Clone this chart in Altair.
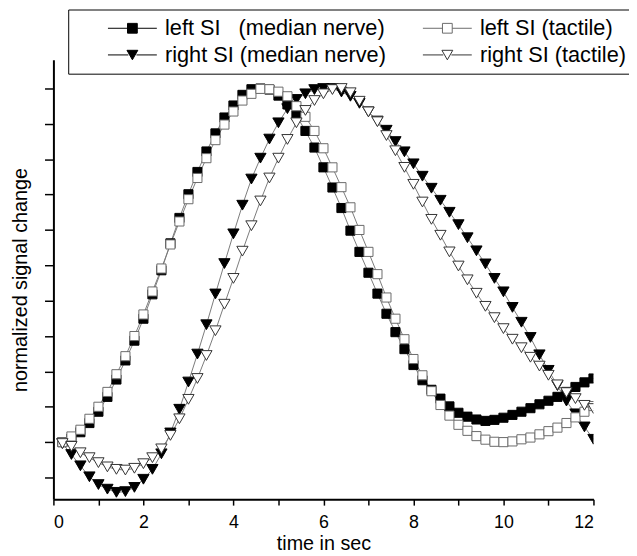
import altair as alt
import pandas as pd

# sample times (s)
time_s = [0.2, 0.4, 0.6, 0.8, 1.0, 1.2, 1.4, 1.6, 1.8, 2.0,
          2.2, 2.4, 2.6, 2.8, 3.0, 3.2, 3.4, 3.6, 3.8, 4.0,
          4.2, 4.4, 4.6, 4.8, 5.0, 5.2, 5.4, 5.6, 5.8, 6.0,
          6.2, 6.4, 6.6, 6.8, 7.0, 7.2, 7.4, 7.6, 7.8, 8.0,
          8.2, 8.4, 8.6, 8.8, 9.0, 9.2, 9.4, 9.6, 9.8, 10.0,
          10.2, 10.4, 10.6, 10.8, 11.0, 11.2, 11.4, 11.6, 11.8, 12.0]

left_median = [1.00, 1.10, 1.28, 1.54, 1.86, 2.28, 2.77, 3.31, 3.87, 4.49,
               5.18, 5.86, 6.62, 7.34, 8.01, 8.64, 9.22, 9.73, 10.18, 10.52,
               10.82, 10.98, 11.00, 10.97, 10.80, 10.55, 10.24, 9.80, 9.33, 8.77,
               8.20, 7.62, 6.98, 6.38, 5.79, 5.20, 4.63, 4.11, 3.63, 3.18,
               2.75, 2.48, 2.23, 2.01, 1.83, 1.72, 1.64, 1.60, 1.63, 1.69,
               1.77, 1.86, 1.96, 2.07, 2.17, 2.28, 2.42, 2.56, 2.69, 2.80]

left_tactile = [1.00, 1.16, 1.35, 1.66, 2.00, 2.42, 2.92, 3.43, 4.00, 4.61,
                5.26, 5.91, 6.59, 7.24, 7.87, 8.47, 9.03, 9.54, 9.98, 10.35,
                10.66, 10.85, 10.99, 10.98, 10.91, 10.78, 10.50, 10.20, 9.80, 9.31,
                8.77, 8.21, 7.64, 7.00, 6.38, 5.75, 5.09, 4.49, 3.91, 3.35,
                2.89, 2.44, 2.05, 1.75, 1.49, 1.32, 1.17, 1.07, 1.01, 1.00,
                1.02, 1.08, 1.13, 1.22, 1.31, 1.41, 1.54, 1.70, 1.86, 2.02]

right_median = [0.96, 0.65, 0.33, 0.02, -0.20, -0.33, -0.42, -0.40, -0.28, -0.05,
                0.23, 0.67, 1.26, 1.93, 2.70, 3.49, 4.32, 5.19, 6.05, 6.89,
                7.70, 8.44, 9.03, 9.57, 10.03, 10.43, 10.69, 10.85, 10.97, 11.00,
                11.00, 10.90, 10.78, 10.58, 10.34, 10.08, 9.82, 9.50, 9.21, 8.87,
                8.52, 8.18, 7.84, 7.50, 7.15, 6.78, 6.41, 6.04, 5.63, 5.25,
                4.81, 4.39, 3.96, 3.47, 3.03, 2.60, 2.16, 1.80, 1.43, 1.08]

right_tactile = [0.96, 0.88, 0.70, 0.56, 0.42, 0.30, 0.23, 0.21, 0.26, 0.39,
                 0.56, 0.81, 1.19, 1.66, 2.21, 2.80, 3.45, 4.15, 4.90, 5.63,
                 6.40, 7.12, 7.82, 8.47, 9.03, 9.56, 10.03, 10.38, 10.66, 10.85,
                 10.97, 11.00, 10.88, 10.64, 10.34, 10.06, 9.67, 9.24, 8.77, 8.29,
                 7.79, 7.30, 6.85, 6.38, 5.98, 5.59, 5.21, 4.84, 4.52, 4.21,
                 3.91, 3.67, 3.40, 3.15, 2.89, 2.62, 2.40, 2.23, 2.04, 1.95]

# legend / draw order: filled markers first, open markers on top
series_names = ["left SI\u00a0\u00a0\u00a0(median nerve)", "right SI (median nerve)",
                "left SI (tactile)", "right SI (tactile)"]
series_values = [left_median, right_median, left_tactile, right_tactile]
x_ticks = list(range(13))
y_ticks = list(range(12))

rows = []
for k, (name, vals) in enumerate(zip(series_names, series_values)):
    for t, v in zip(time_s, vals):
        rows.append({"t": t, "v": v, "series": name, "ord": k})
df = pd.DataFrame(rows)

FONT = "Liberation Sans"

x_enc = alt.X("t:Q", scale=alt.Scale(domain=[0, 12], nice=False),
              axis=alt.Axis(values=x_ticks,
                            labelExpr="datum.value % 2 == 0 ? datum.label : ''",
                            title="time in sec", grid=False, tickSize=6,
                            labelPadding=9, titlePadding=2))
y_enc = alt.Y("v:Q", scale=alt.Scale(domain=[-0.614, 11.81], nice=False, zero=False),
              axis=alt.Axis(values=y_ticks, labels=False,
                            title="normalized signal change", grid=False,
                            tickSize=9, titlePadding=14))

lines = alt.Chart(df).mark_line(color="#7a7a7a", strokeWidth=1, clip=True).encode(
    x=x_enc, y=y_enc, detail="series:N", order="t:Q")

shape_rng = ["square", "triangle-down", "square", "triangle-down"]
fill_rng = ["black", "black", "white", "white"]
stroke_rng = ["black", "black", "#6a6a6a", "#333333"]

points = alt.Chart(df).mark_point(filled=True, opacity=1, strokeWidth=1, clip=True).encode(
    x=x_enc, y=y_enc,
    shape=alt.Shape("series:N", scale=alt.Scale(domain=series_names, range=shape_rng), legend=None),
    fill=alt.Fill("series:N", scale=alt.Scale(domain=series_names, range=fill_rng), legend=None),
    stroke=alt.Stroke("series:N", scale=alt.Scale(domain=series_names, range=stroke_rng), legend=None),
    size=alt.condition("indexof(datum.series, 'right') == 0", alt.value(130), alt.value(85)),
    order="ord:Q",
)

sq_path = "M-4.5,0H-0.9M0.9,0H4.5M-0.9,-0.9H0.9V0.9H-0.9Z"
tri_path = "M-4.5,0H-0.75M0.75,0H4.5M-1,-0.85L1,-0.85L0,0.9Z"
leg = alt.Legend(orient="none", legendX=15, legendY=-51, columns=2,
                 title="\u00a0", titleOrient="left", titlePadding=46, titleFontSize=10,
                 padding=8, strokeColor="black", labelFont=FONT, labelFontSize=22,
                 labelColor="black", labelOffset=22, labelLimit=0, symbolSize=121,
                 rowPadding=5, columnPadding=35, symbolStrokeWidth=1)

legend_layer = alt.Chart(df).transform_filter("false").mark_point(
    filled=True, opacity=1, strokeWidth=1).encode(
    x=x_enc, y=y_enc,
    shape=alt.Shape("series:N", scale=alt.Scale(domain=series_names,
                    range=[sq_path, tri_path, sq_path, tri_path]), legend=leg),
    fill=alt.Fill("series:N", scale=alt.Scale(domain=series_names, range=fill_rng), legend=leg),
    stroke=alt.Stroke("series:N", scale=alt.Scale(domain=series_names, range=stroke_rng), legend=leg),
)

chart = alt.layer(lines, points, legend_layer).resolve_scale(
    shape="independent", fill="independent", stroke="independent"
).properties(
    width=547, height=445,
    autosize=alt.AutoSizeParams(type="none"),
    padding={"left": 46, "top": 49, "right": 36, "bottom": 54},
).configure_view(stroke=None).configure_axis(
    domainColor="black", domainWidth=2, tickColor="black", tickWidth=1.5,
    labelFont=FONT, labelFontSize=18, labelColor="black",
    titleFont=FONT, titleFontSize=20, titleFontWeight="normal", titleColor="black",
)

chart.save("out.html", embed_options={"renderer": "svg", "actions": False})
